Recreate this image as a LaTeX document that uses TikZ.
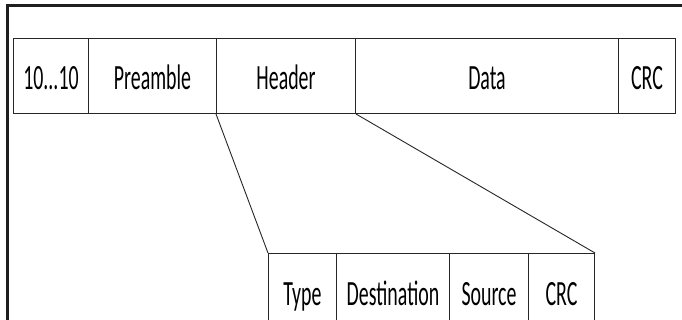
\documentclass[tikz,border=0pt]{standalone}
\usepackage{fontspec}
\setmainfont[FakeStretch=0.56]{Carlito}
\begin{document}
\begin{tikzpicture}[x=1pt,y=-1pt,
  cell/.style={draw=black!85, line width=1pt, rectangle, inner sep=0pt,
    minimum height=75pt, anchor=north west, text height=28pt, text depth=0pt,
    font=\fontsize{35.5}{40}\selectfont},
  frame/.style={draw=black!88, line width=2.6pt},
  link/.style={draw=black!85, line width=0.9pt}]
\useasboundingbox (0,0) rectangle (682,320);
% outer frame
\coordinate (ftl) at (7.3,5.8);
\coordinate (ftr) at (684,5.8);
\coordinate (fbl) at (7.3,324);
\draw[frame] (ftr) -- (ftl) -- (fbl);
% top row
\node[cell, minimum width=75pt]  (b10)  at (13,38)  {10...10};
\node[cell, minimum width=128pt] (pre)  at (88,38)  {Preamble};
\node[cell, minimum width=139pt] (hdr)  at (216,38) {Header};
\node[cell, minimum width=263pt] (data) at (355,38) {Data};
\node[cell, minimum width=57pt]  (crc)  at (618,38) {CRC};
% bottom row
\node[cell, minimum width=68pt]  (type) at (268,253) {Type};
\node[cell, minimum width=113pt] (dst)  at (336,253) {Destination};
\node[cell, minimum width=79pt]  (src)  at (449,253) {Source};
\node[cell, minimum width=66pt]  (crc2) at (528,253) {CRC};
% connectors
\draw[link] (hdr.south west) -- (type.north west);
\draw[link] (hdr.south east) -- (crc2.north east);
\end{tikzpicture}
\end{document}
